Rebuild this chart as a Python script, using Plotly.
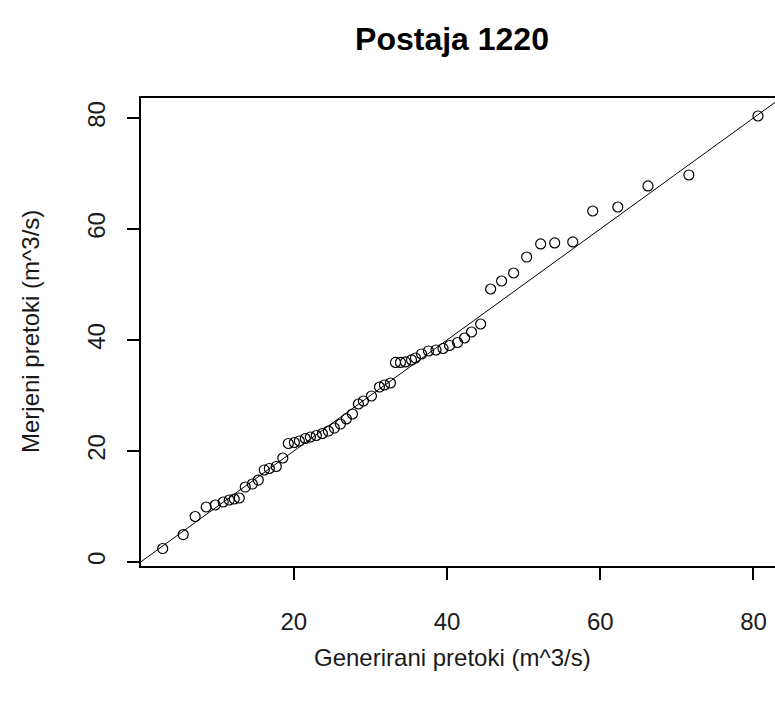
import plotly.graph_objects as go

# Sorted quantiles (QQ plot): generated vs measured flows
generirani = [2.88, 5.56, 7.12, 8.56, 9.74, 10.78, 11.57, 12.22, 12.88, 13.66,
              14.58, 15.36, 16.14, 16.80, 17.71, 18.56, 19.28, 20.07, 20.72, 21.50,
              22.16, 22.94, 23.73, 24.51, 25.29, 26.08, 26.86, 27.65, 28.43, 29.08,
              30.13, 31.18, 31.83, 32.61, 33.27, 33.92, 34.58, 35.36, 35.88, 36.67,
              37.58, 38.56, 39.48, 40.33, 41.37, 42.29, 43.20, 44.38, 45.69, 47.12,
              48.69, 50.39, 52.22, 54.05, 56.41, 59.02, 62.29, 66.23, 71.57, 80.59]
merjeni = [2.43, 4.95, 8.20, 9.91, 10.27, 10.81, 11.17, 11.35, 11.53, 13.51,
           14.05, 14.77, 16.58, 16.85, 17.21, 18.74, 21.35, 21.53, 21.80, 22.25,
           22.52, 22.79, 23.15, 23.60, 24.14, 24.86, 25.77, 26.67, 28.47, 29.01,
           29.91, 31.53, 31.89, 32.25, 35.95, 35.95, 36.04, 36.40, 36.76, 37.48,
           38.02, 38.20, 38.47, 39.01, 39.55, 40.36, 41.44, 42.88, 49.19, 50.63,
           52.07, 54.95, 57.30, 57.48, 57.66, 63.24, 63.96, 67.75, 69.73, 80.36]

x_ticks = [20, 40, 60, 80]
y_ticks = [0, 20, 40, 60, 80]
x_range = [0.05, 82.81]
y_range = [-0.72, 83.6]

# reference line y = a + b*x
line_a, line_b = 0.0, 1.0
lx = [x_range[0] - 5, x_range[1] + 5]
ly = [line_a + line_b * v for v in lx]

FONT = "Liberation Sans, Arial, sans-serif"
TXT = "#1a1a1a"

fig = go.Figure()
fig.add_trace(go.Scatter(x=lx, y=ly, mode="lines",
                         line=dict(color="black", width=1), showlegend=False,
                         hoverinfo="skip"))
fig.add_trace(go.Scatter(x=generirani, y=merjeni, mode="markers",
                         marker=dict(symbol="circle-open", size=10, color="black",
                                     line=dict(width=1.2, color="black")),
                         showlegend=False))

fig.update_layout(
    width=775, height=702,
    margin=dict(l=141, r=0, t=98, b=136),
    paper_bgcolor="white", plot_bgcolor="white",
    font=dict(family=FONT, color="black"),
    title=dict(text="<b>Postaja 1220</b>", x=452 / 775, xanchor="center",
               y=1 - 39 / 702, yanchor="middle",
               font=dict(size=32, family=FONT, color="black")),
    xaxis=dict(range=x_range, tickvals=x_ticks, showgrid=False, zeroline=False,
               showline=True, mirror=True, linecolor="black", linewidth=1.5,
               ticks="outside", ticklen=12, tickwidth=1.5, tickcolor="black",
               tickfont=dict(size=24, family=FONT, color=TXT),
               ticklabelstandoff=21),
    yaxis=dict(range=y_range, tickvals=y_ticks, showgrid=False, zeroline=False,
               showline=True, mirror=False, linecolor="black", linewidth=1.5,
               ticks="outside", ticklen=12, tickwidth=1.5, tickcolor="black",
               tickangle=-90,
               tickfont=dict(size=24, family=FONT, color=TXT),
               ticklabelstandoff=13),
    annotations=[
        dict(text="Generirani pretoki (m^3/s)", xref="paper", yref="paper",
             x=(452 - 141) / 634, y=-(657 - 566) / 468, xanchor="center",
             yanchor="middle", showarrow=False,
             font=dict(size=24, family=FONT, color=TXT)),
        dict(text="Merjeni pretoki (m^3/s)", xref="paper", yref="paper",
             x=-(141 - 30) / 634, y=0.5, xanchor="center", yanchor="middle",
             textangle=-90, showarrow=False,
             font=dict(size=24, family=FONT, color=TXT)),
    ],
)

fig.write_html("out.html")
